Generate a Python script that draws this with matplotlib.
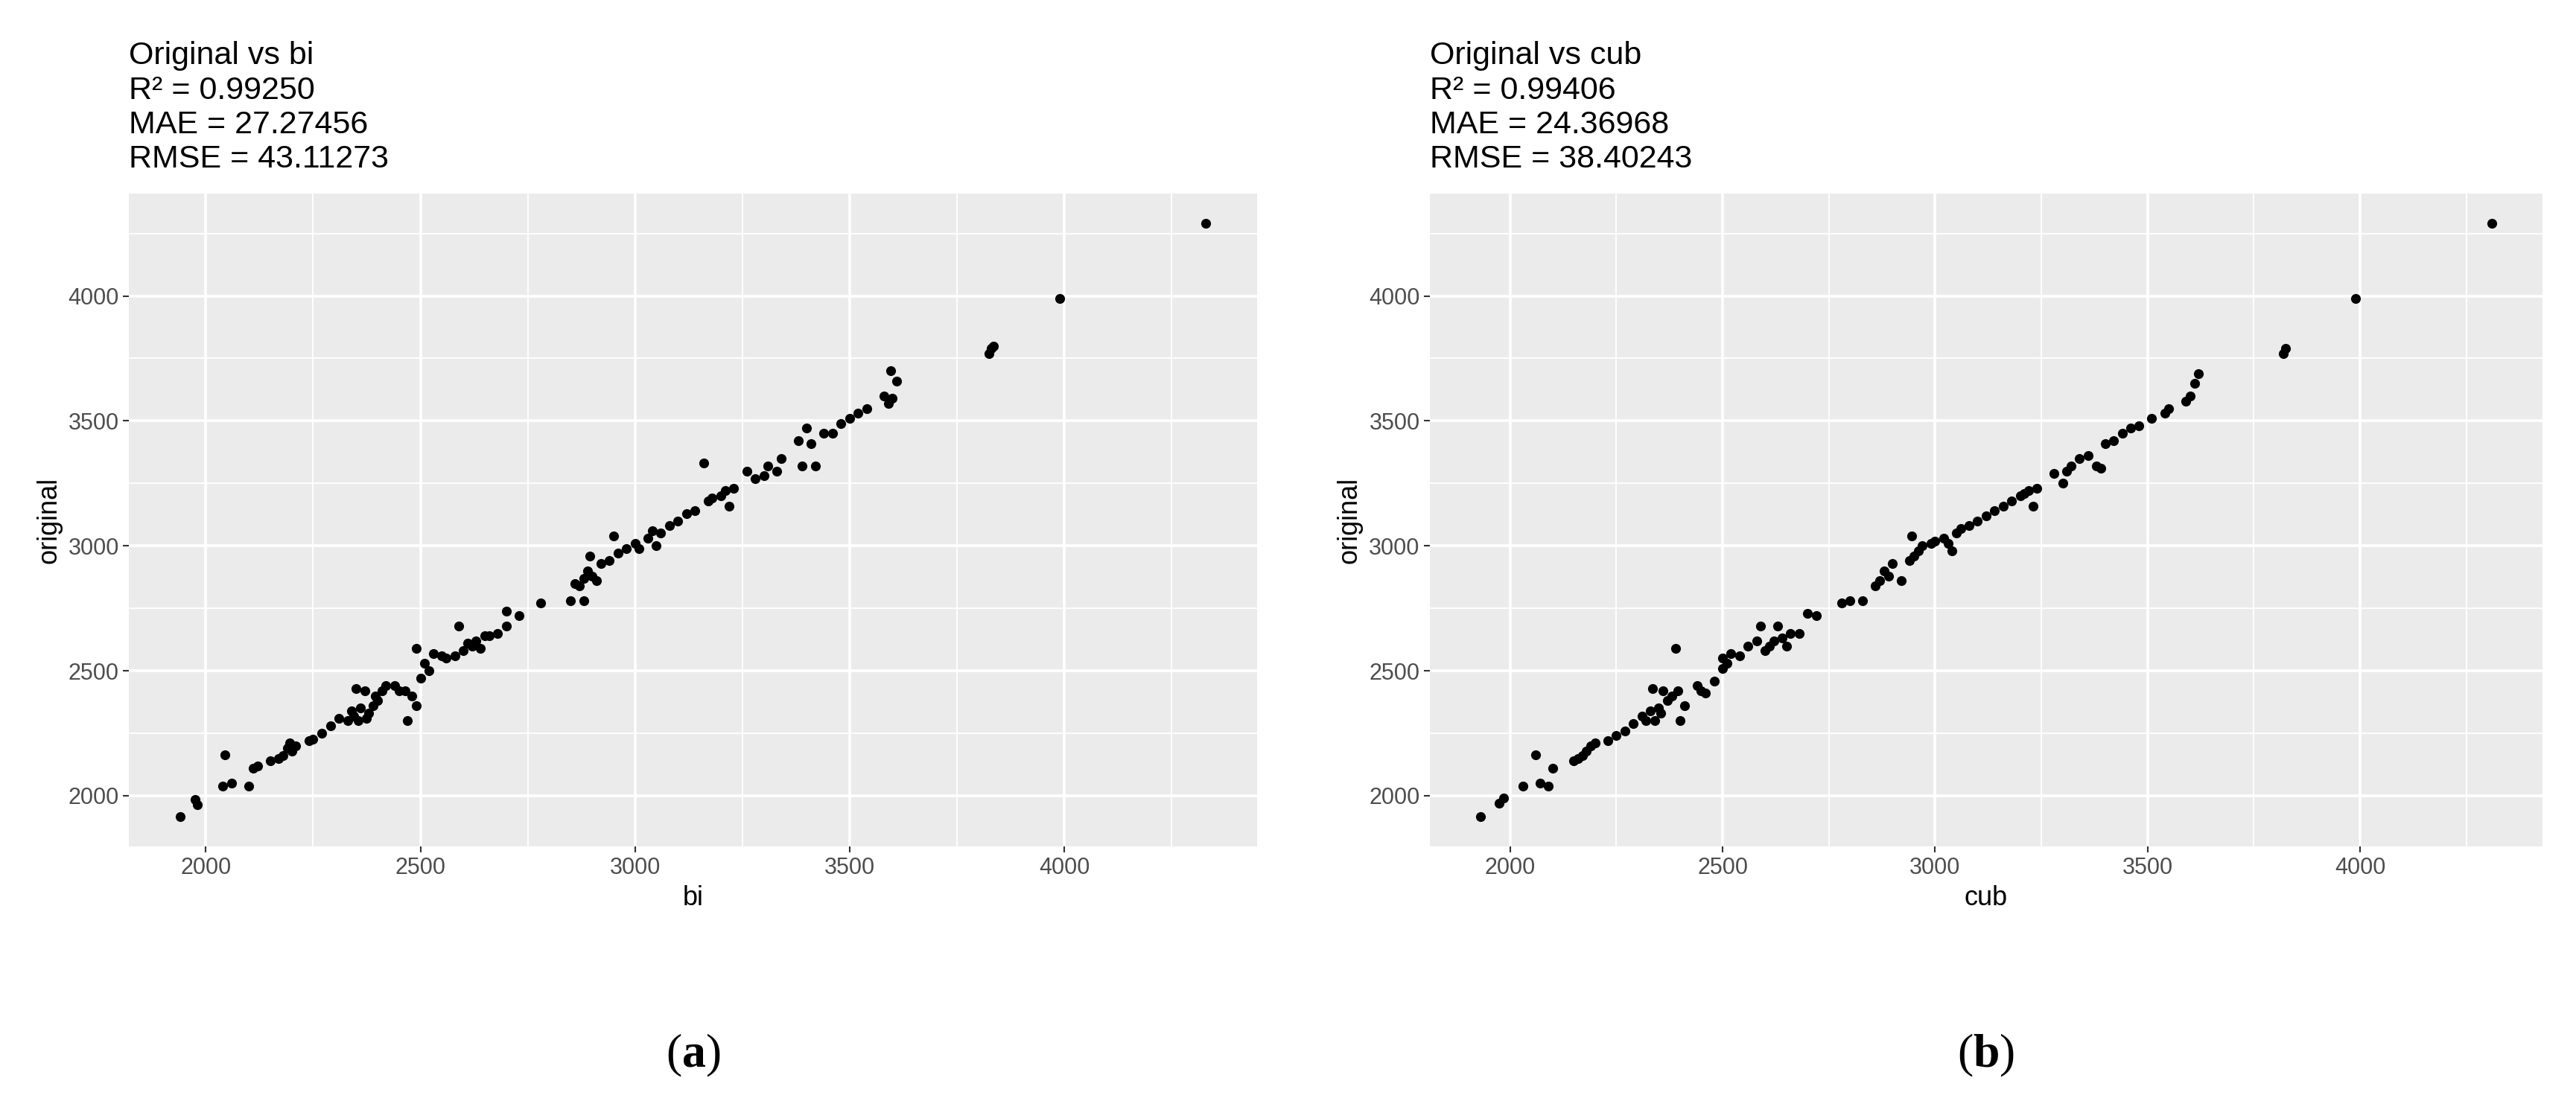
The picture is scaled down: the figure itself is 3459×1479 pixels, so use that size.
import matplotlib
matplotlib.use("Agg")
import matplotlib.pyplot as plt

bi = [1940,1975,1980,2040,2045,2060,2100,2110,2120,2150,2170,2180,2190,2195,2200,2210,2240,2250,2270,2290,2310,2330,2340,2345,2350,2355,2360,2370,2375,2380,2390,2395,2400,2410,2420,2440,2450,2465,2470,2480,2490,2490,2500,2510,2520,2530,2550,2560,2580,2590,2600,2610,2620,2630,2640,2650,2660,2680,2700,2700,2730,2780,2850,2860,2870,2880,2880,2890,2895,2900,2910,2920,2940,2950,2960,2980,3000,3010,3030,3040,3050,3060,3080,3100,3120,3140,3160,3170,3180,3200,3210,3220,3230,3260,3280,3300,3310,3330,3340,3380,3390,3400,3410,3420,3440,3460,3480,3500,3520,3540,3580,3590,3595,3600,3610,3825,3830,3835,3990,4330]
orig_bi = [1915,1985,1965,2040,2165,2050,2040,2110,2120,2140,2150,2160,2190,2210,2180,2200,2220,2225,2250,2280,2310,2300,2340,2320,2430,2300,2350,2420,2310,2330,2360,2400,2380,2420,2440,2440,2420,2420,2300,2400,2360,2590,2470,2530,2500,2570,2560,2550,2560,2680,2580,2610,2600,2620,2590,2640,2640,2650,2680,2740,2720,2770,2780,2850,2840,2780,2870,2900,2960,2880,2860,2930,2940,3040,2970,2990,3010,2990,3030,3060,3000,3050,3080,3100,3130,3140,3330,3180,3190,3200,3220,3160,3230,3300,3270,3280,3320,3300,3350,3420,3320,3470,3410,3320,3450,3450,3490,3510,3530,3550,3600,3570,3700,3590,3660,3770,3790,3800,3990,4290]

cub = [1930,1975,1985,2030,2060,2070,2090,2100,2150,2160,2170,2180,2190,2200,2230,2250,2270,2290,2310,2320,2330,2335,2340,2350,2355,2360,2370,2380,2390,2395,2400,2410,2440,2450,2460,2480,2500,2500,2510,2520,2540,2560,2580,2590,2600,2610,2620,2630,2640,2650,2660,2680,2700,2720,2780,2800,2830,2860,2870,2880,2890,2900,2920,2940,2945,2950,2960,2970,2990,3000,3020,3030,3040,3050,3060,3080,3100,3120,3140,3160,3180,3200,3210,3220,3230,3240,3280,3300,3310,3320,3340,3360,3380,3390,3400,3420,3440,3460,3480,3510,3540,3550,3590,3600,3610,3620,3820,3825,3990,4310]
orig_cub = [1915,1970,1990,2040,2165,2050,2040,2110,2140,2150,2160,2180,2200,2210,2220,2240,2260,2290,2320,2300,2340,2430,2300,2350,2330,2420,2380,2400,2590,2420,2300,2360,2440,2420,2410,2460,2550,2510,2530,2570,2560,2600,2620,2680,2580,2600,2620,2680,2630,2600,2650,2650,2730,2720,2770,2780,2780,2840,2860,2900,2880,2930,2860,2940,3040,2960,2980,3000,3010,3020,3030,3010,2980,3050,3070,3080,3100,3120,3140,3160,3180,3200,3210,3220,3160,3230,3290,3250,3300,3320,3350,3360,3320,3310,3410,3420,3450,3470,3480,3510,3530,3550,3580,3600,3650,3690,3770,3790,3990,4290]

panels = [
    (bi, orig_bi, "bi", "Original vs bi\nR\u00b2 = 0.99250\nMAE = 27.27456\nRMSE = 43.11273", "a"),
    (cub, orig_cub, "cub", "Original vs cub\nR\u00b2 = 0.99406\nMAE = 24.36968\nRMSE = 38.40243", "b"),
]
positions = [[0.050, 0.231, 0.438, 0.593], [0.555, 0.231, 0.432, 0.593]]

plt.rcParams['font.family'] = ['Liberation Sans', 'DejaVu Sans']
plt.rcParams['mathtext.fontset'] = 'custom'
plt.rcParams['mathtext.rm'] = 'Liberation Serif'
plt.rcParams['mathtext.bf'] = 'Liberation Serif:bold'
fig = plt.figure(figsize=(34.59, 14.79), dpi=100)
for (x, y, xl, title, tag), pos in zip(panels, positions):
    ax = fig.add_axes(pos)
    ax.set_facecolor('#EBEBEB')
    ax.scatter(x, y, s=90, color='black', zorder=3, linewidths=0)
    ax.set_xticks([2000, 2500, 3000, 3500, 4000])
    ax.set_yticks([2000, 2500, 3000, 3500, 4000])
    ax.set_xticks([2250, 2750, 3250, 3750, 4250], minor=True)
    ax.set_yticks([2250, 2750, 3250, 3750, 4250], minor=True)
    ax.grid(True, which='major', color='white', linewidth=2.6)
    ax.grid(True, which='minor', color='white', linewidth=1.3)
    ax.set_axisbelow(True)
    for s in ax.spines.values():
        s.set_visible(False)
    lo, hi = min(x), max(x); p = (hi - lo) * 0.05
    ax.set_xlim(lo - p, hi + p)
    lo, hi = min(y), max(y); p = (hi - lo) * 0.05
    ax.set_ylim(lo - p, hi + p)
    ax.tick_params(which='major', labelsize=22, labelcolor='#4D4D4D', color='#333333', length=6, width=1.5)
    ax.tick_params(which='minor', length=0)
    ax.set_xlabel(xl, fontsize=26, labelpad=6)
    ax.set_ylabel("original", fontsize=26, labelpad=6)
    ax.text(0.0, 1.03, title, transform=ax.transAxes, fontsize=31, va='bottom', ha='left', linespacing=1.2)
    ax.text(0.5, -0.32, r"($\mathbf{%s}$)" % tag, transform=ax.transAxes, fontsize=46, ha='center', va='center',
            family=['Liberation Serif', 'DejaVu Serif'])

fig.savefig("out.png", dpi=100, facecolor='white')
